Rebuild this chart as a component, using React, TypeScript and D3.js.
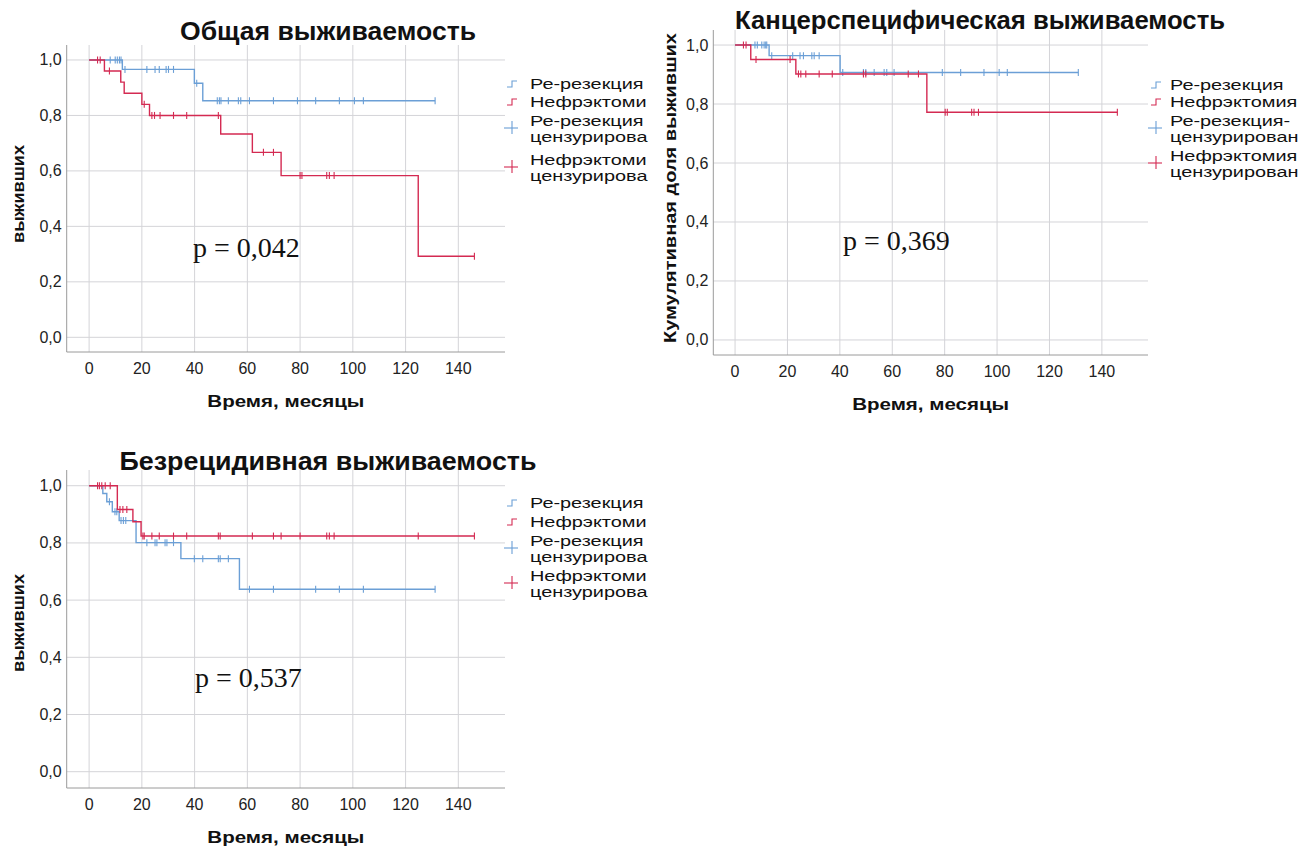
import React from "react";
import * as d3 from "d3";

// Общая выживаемость
const osReTimes = [0, 12.6, 39.9, 43.1];
const osReSurv = [1, 0.966, 0.916, 0.853];
const osReCens = [8.0, 9.9, 10.7, 11.5, 12.1, 13.6, 21.9, 25.0, 26.6, 29.2, 30.1, 32.0, 40.8, 48.6, 49.4, 50.0, 52.8, 56.6, 57.5, 60.8, 69.9, 79.0, 85.9, 94.9, 100.6, 104.0, 131.2];
const osNeTimes = [0, 5.8, 12.0, 13.3, 20.0, 22.9, 49.9, 61.9, 72.8, 124.8];
const osNeSurv = [1, 0.96, 0.92, 0.88, 0.84, 0.8, 0.733, 0.667, 0.583, 0.292];
const osNeCens = [3.2, 4.2, 7.7, 20.9, 23.8, 24.8, 26.9, 32.0, 37.0, 49.0, 66.1, 69.9, 80.0, 80.7, 90.1, 91.1, 92.9, 146.1];

// Канцерспецифическая выживаемость
const cssReTimes = [0, 13.0, 40.1];
const cssReSurv = [1, 0.964, 0.907];
const cssReCens = [7.6, 8.5, 10.2, 11.1, 11.7, 12.1, 14.0, 22.0, 24.8, 26.1, 29.3, 30.2, 32.1, 41.1, 49.0, 49.9, 53.1, 56.9, 57.9, 60.7, 79.1, 86.1, 95.0, 100.8, 103.9, 131.0];
const cssNeTimes = [0, 6.0, 23.2, 73.2];
const cssNeSurv = [1, 0.951, 0.902, 0.772];
const cssNeCens = [3.2, 4.2, 8.0, 21.0, 24.2, 25.1, 27.0, 32.1, 37.1, 49.0, 49.9, 66.1, 70.0, 80.2, 81.0, 90.3, 91.2, 92.9, 145.9];

// Безрецидивная выживаемость
const rfsReTimes = [0, 5.2, 6.7, 8.8, 11.4, 17.8, 34.8, 57.0];
const rfsReSurv = [1, 0.973, 0.944, 0.909, 0.878, 0.801, 0.745, 0.638];
const rfsReCens = [7.7, 9.8, 10.5, 12.1, 13.0, 13.9, 21.9, 25.0, 25.7, 28.8, 29.5, 32.0, 39.9, 43.1, 49.0, 49.7, 52.8, 60.8, 69.9, 85.9, 94.9, 104.0, 131.2];
const rfsNeTimes = [0, 10.7, 16.6, 19.7];
const rfsNeSurv = [1, 0.917, 0.874, 0.824];
const rfsNeCens = [3.2, 3.9, 4.8, 6.1, 8.0, 11.7, 12.8, 14.3, 20.4, 20.9, 23.8, 26.6, 32.0, 37.0, 49.0, 49.7, 61.9, 69.9, 72.8, 80.0, 90.1, 91.1, 92.9, 124.8, 146.1];

const xTicks = [0, 20, 40, 60, 80, 100, 120, 140];
const yTicks = [0, 0.2, 0.4, 0.6, 0.8, 1.0];
// legend labels as they are visible (cut by the picture's edge)
const legendShort = ["Ре-резекция", "Нефрэктоми", "Ре-резекция", "цензурирова", "Нефрэктоми", "цензурирова"];
const legendLong = ["Ре-резекция", "Нефрэктомия", "Ре-резекция-", "цензурирован", "Нефрэктомия", "цензурирован"];

const BLUE = "#6b9fd6";
const RED = "#d42a52";
const FONT = "'Liberation Sans', Arial, sans-serif";

const charts = [
  {
    id: "os", title: "Общая выживаемость", pValue: "p = 0,042", yLabel: "выживших", yLabelLen: 98,
    re: [osReTimes, osReSurv, osReCens], ne: [osNeTimes, osNeSurv, osNeCens],
    box: { left: 66.7, right: 505, top: 45, bottom: 352 }, xDom: [-8.5, 157.7], yDom: [-0.053, 1.054],
    titleX: 328, titleY: 40, titleLen: 296, yLabelX: 18, yLabelY: 194, pX: 193, pY: 257,
    legend: legendShort, iconX: 507, textX: 530, rowY: [84, 102, 121, 137, 160, 176],
  },
  {
    id: "css", title: "Канцерспецифическая выживаемость", pValue: "p = 0,369", yLabel: "Кумулятивная доля выживших", yLabelLen: 310,
    re: [cssReTimes, cssReSurv, cssReCens], ne: [cssNeTimes, cssNeSurv, cssNeCens],
    box: { left: 713.3, right: 1148, top: 30, bottom: 355 }, xDom: [-8.3, 157.6], yDom: [-0.051, 1.051],
    titleX: 980, titleY: 29, titleLen: 490, yLabelX: 670, yLabelY: 188, pX: 843, pY: 250,
    legend: legendLong, iconX: 1151, textX: 1170, rowY: [85, 102, 121, 137, 156, 172],
  },
  {
    id: "rfs", title: "Безрецидивная выживаемость", pValue: "p = 0,537", yLabel: "выживших", yLabelLen: 98,
    re: [rfsReTimes, rfsReSurv, rfsReCens], ne: [rfsNeTimes, rfsNeSurv, rfsNeCens],
    box: { left: 66.7, right: 505, top: 470, bottom: 788 }, xDom: [-8.5, 157.7], yDom: [-0.057, 1.055],
    titleX: 328, titleY: 470, titleLen: 417, yLabelX: 18, yLabelY: 623, pX: 195, pY: 687,
    legend: legendShort, iconX: 507, textX: 530, rowY: [503, 522, 541, 557, 576, 592],
  },
];

function survAt(times: number[], surv: number[], t: number) {
  const i = d3.bisectRight(times, t) - 1;
  return surv[Math.max(0, i)];
}

function Curve({ data, x, y, color }: any) {
  const [times, surv, cens] = data;
  const end = Math.max(times[times.length - 1], d3.max(cens) as number);
  const pts: [number, number][] = times.map((t: number, i: number) => [t, surv[i]]);
  pts.push([end, surv[surv.length - 1]]);
  const line = d3.line<[number, number]>().x((d) => x(d[0])).y((d) => y(d[1])).curve(d3.curveStepAfter);
  return (
    <g>
      <path d={line(pts) || ""} fill="none" stroke={color} strokeWidth={1.4} />
      {cens.map((t: number, i: number) => {
        const cx = x(t);
        const cy = y(survAt(times, surv, t));
        return <line key={i} x1={cx} x2={cx} y1={cy - 3.5} y2={cy + 3.5} stroke={color} strokeWidth={1.1} />;
      })}
    </g>
  );
}

function Legend({ c }: any) {
  const ix = c.iconX;
  const r = c.rowY;
  const lt = (text: string, ty: number) => (
    <text key={text + ty} transform={`translate(${c.textX},${ty}) scale(1.42,1)`} dominantBaseline="central" fontSize={14} fontFamily={FONT} fill="#111">{text}</text>
  );
  return (
    <g>
      {[BLUE, RED].map((col, i) => (
        <path key={"s" + i} d={`M${ix},${r[i] + 3}H${ix + 5}V${r[i] - 3}H${ix + 10}`} fill="none" stroke={col} strokeWidth={1.1} />
      ))}
      {[BLUE, RED].map((col, i) => {
        const cy = (r[2 + i * 2] + r[3 + i * 2]) / 2 - 2;
        return (
          <g key={"c" + i}>
            <line x1={ix - 3} x2={ix + 11} y1={cy + 1} y2={cy + 1} stroke={col} strokeWidth={1.1} />
            <line x1={ix + 5} x2={ix + 5} y1={cy - 6} y2={cy + 7} stroke={col} strokeWidth={1.1} />
          </g>
        );
      })}
      {c.legend.map((t: string, i: number) => lt(t, r[i]))}
    </g>
  );
}

function Chart({ c }: any) {
  const { box } = c;
  const x = d3.scaleLinear().domain(c.xDom).range([box.left, box.right]);
  const y = d3.scaleLinear().domain(c.yDom).range([box.bottom, box.top]);
  const fmt = (v: number) => d3.format(".1f")(v).replace(".", ",");
  const midX = (box.left + box.right) / 2;
  return (
    <g>
      {xTicks.map((t) => (
        <line key={"gx" + t} x1={x(t)} x2={x(t)} y1={box.top} y2={box.bottom} stroke="#d4d4d8" strokeWidth={1} />
      ))}
      {yTicks.map((t) => (
        <line key={"gy" + t} x1={box.left} x2={box.right} y1={y(t)} y2={y(t)} stroke="#d4d4d8" strokeWidth={1} />
      ))}
      <line x1={box.left} x2={box.left} y1={box.top} y2={box.bottom} stroke="#9a9a9a" />
      <line x1={box.left} x2={box.right} y1={box.bottom} y2={box.bottom} stroke="#9a9a9a" />
      {yTicks.map((t) => (
        <text key={"ty" + t} x={box.left - 5} y={y(t)} textAnchor="end" dominantBaseline="central" fontSize={16} fontFamily={FONT} fill="#222">{fmt(t)}</text>
      ))}
      {xTicks.map((t) => (
        <text key={"tx" + t} x={x(t)} y={box.bottom + 16} textAnchor="middle" dominantBaseline="central" fontSize={16} fontFamily={FONT} fill="#222">{t}</text>
      ))}
      <text x={midX} y={box.bottom + 49} textAnchor="middle" dominantBaseline="central" fontSize={17} fontWeight="bold" fontFamily={FONT} fill="#111" textLength={157} lengthAdjust="spacingAndGlyphs">Время, месяцы</text>
      <text transform={`translate(${c.yLabelX},${c.yLabelY}) rotate(-90)`} textAnchor="middle" dominantBaseline="central" fontSize={17} fontWeight="bold" fontFamily={FONT} fill="#111" textLength={c.yLabelLen} lengthAdjust="spacingAndGlyphs">{c.yLabel}</text>
      <text x={c.titleX} y={c.titleY} textAnchor="middle" fontSize={26} fontWeight="bold" fontFamily={FONT} fill="#111" textLength={c.titleLen} lengthAdjust="spacingAndGlyphs">{c.title}</text>
      <Curve data={c.re} x={x} y={y} color={BLUE} />
      <Curve data={c.ne} x={x} y={y} color={RED} />
      <text x={c.pX} y={c.pY} fontSize={28} fontFamily="'Liberation Serif', 'Times New Roman', serif" fill="#111">{c.pValue}</text>
      <Legend c={c} />
    </g>
  );
}

export default function App() {
  return (
    <div style={{ position: "absolute", left: 0, top: 0 }}>
      <svg width={1302} height={846} style={{ display: "block", background: "#fff" }}>
        {charts.map((c) => (
          <Chart key={c.id} c={c} />
        ))}
      </svg>
    </div>
  );
}
